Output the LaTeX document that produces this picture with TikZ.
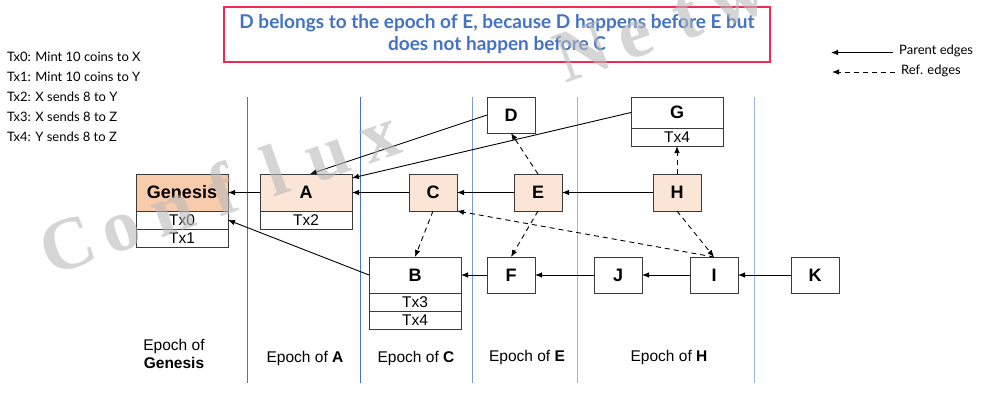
\documentclass[tikz,border=0pt]{standalone}
\usepackage{fontspec}
\setmainfont{Lato}
\setsansfont{Liberation Sans}
\newfontfamily\wmfont{Liberation Serif}
\usetikzlibrary{arrows.meta, positioning}
\definecolor{peach}{HTML}{F8CBAD}
\definecolor{lightpeach}{HTML}{FBE5D6}
\definecolor{boxline}{HTML}{3A3A3A}
\definecolor{epochblue}{HTML}{4472C4}
\definecolor{epochmid}{HTML}{7A9AD6}
\definecolor{epochpale}{HTML}{9DB5E3}
\definecolor{titleblue}{HTML}{4472C4}
\definecolor{titlered}{HTML}{EF2B55}
\tikzset{
  blk/.style={rectangle, draw=boxline, line width=1pt, inner sep=0pt, outer sep=0pt, minimum height=36pt, font=\sffamily\bfseries\fontsize{18}{18}\selectfont},
  wide/.style={blk, minimum width=92pt},
  narrow/.style={blk, minimum width=48pt},
  pivot/.style={fill=lightpeach, minimum height=37pt},
  txrow/.style={rectangle, draw=boxline, line width=1pt, inner sep=0pt, outer sep=0pt, minimum width=92pt, minimum height=18pt, font=\sffamily\fontsize{15.5}{16}\selectfont},
  parent/.style={-{Latex[length=7pt,width=5.5pt]}, line width=0.9pt},
  ref/.style={parent, dash pattern=on 5pt off 4pt},
  sep/.style={line width=1pt},
  epochlbl/.style={font=\sffamily\fontsize{15.5}{18}\selectfont, align=center, inner sep=0pt},
  note/.style={font=\fontsize{13}{16}\selectfont, inner sep=0pt},
  titlebox/.style={rectangle, draw=titlered, line width=2.4pt, fill=white, minimum width=546pt, minimum height=55pt, align=center, text=titleblue, inner sep=0pt, font=\bfseries\fontsize{19}{22}\selectfont},
  wmletter/.style={font=\wmfont\bfseries\fontsize{74}{74}\selectfont, text=gray!55, opacity=0.6, rotate=19.5, anchor=base, inner sep=0pt},
}
\begin{document}
\begin{tikzpicture}[x=1pt, y=-1pt]
\useasboundingbox (0,0) rectangle (998,407);

% epoch separators
\foreach \xx/\cc in {247/epochblue, 360/epochblue, 472/epochmid, 577/epochpale, 754/epochpale}
  \draw[sep, draw=\cc] (\xx,97) -- (\xx,383);

\node (title) [titlebox] at (497,34.5) {D belongs to the epoch of E, because D happens before E but\\does not happen before C};

% transactions
\foreach \txt [count=\i from 0] in {Tx0: Mint 10 coins to X, Tx1: Mint 10 coins to Y, Tx2: X sends 8 to Y, Tx3: X sends 8 to Z, Tx4: Y sends 8 to Z}
  \node (note\i) [note, anchor=base west] at (7,61.5+20*\i) {\txt};

% blocks
\node (gen) [wide, fill=peach, minimum height=37pt] at (182,192.5) {Genesis};
\node (gtx0) [txrow, below=0pt of gen] {Tx0};
\node (gtx1) [txrow, below=0pt of gtx0] {Tx1};
\node (a) [wide, pivot, right=32pt of gen] {A};
\node (atx2) [txrow, below=0pt of a] {Tx2};
\node (c) [narrow, pivot, right=57pt of a] {C};
\node (e) [narrow, pivot, right=57pt of c] {E};
\node (h) [narrow, pivot, right=91pt of e] {H};
\node (d) [narrow, above=41pt of e, xshift=-27pt] {D};
\node (gtx4) [txrow, above=28pt of h] {Tx4};
\node (g) [wide, minimum height=31pt, above=0pt of gtx4] {G};
\node (f) [narrow, below=46pt of e, xshift=-27pt] {F};
\node (b) [wide, left=26pt of f] {B};
\node (btx3) [txrow, below=0pt of b] {Tx3};
\node (btx4) [txrow, below=0pt of btx3] {Tx4};
\node (j) [narrow, right=59pt of f] {J};
\node (i) [narrow, right=48pt of j] {I};
\node (k) [narrow, right=53pt of i] {K};

% parent edges
\draw[parent] (a) -- (gen);
\draw[parent] (c) -- (a);
\draw[parent] (e) -- (c);
\draw[parent] (h) -- (e);
\draw[parent] (d.west) -- ([xshift=4pt]a.north);
\draw[parent] (g.west) -- ([yshift=-4pt]a.north east);
\draw[parent] (b.west) -- (gtx0.east);
\draw[parent] (f) -- (b);
\draw[parent] (j) -- (f);
\draw[parent] (i) -- (j);
\draw[parent] (k) -- (i);

% ref edges
\draw[ref] (e.north) -- (d.south);
\draw[ref] (h.north) -- (gtx4.south);
\draw[ref] (c.south) -- (b.north);
\draw[ref] (e.south) -- (f.north);
\draw[ref] (h.south) -- (i.north);
\draw[ref] (i.north) -- (c.south east);

% epochs
\node (ep0) [epochlbl] at (174,354) {Epoch of\\\textbf{Genesis}};
\node (ep1) [epochlbl] at (305,358) {Epoch of \textbf{A}};
\node (ep2) [epochlbl] at (416,358) {Epoch of \textbf{C}};
\node (ep3) [epochlbl] at (527,357) {Epoch of \textbf{E}};
\node (ep4) [epochlbl] at (669,357) {Epoch of \textbf{H}};

% legend
\node (plbl) [note, anchor=west] at (899,51) {Parent edges};
\node (rlbl) [note, anchor=west] at (901,71) {Ref. edges};
\coordinate (p0) at (893,52.5);
\coordinate (p1) at (831,52.5);
\coordinate (r0) at (895,72);
\coordinate (r1) at (832,72);
\draw[parent] (p0) -- (p1);
\draw[ref] (r0) -- (r1);

% watermark
\foreach \ch [count=\k from 0] in {C,o,n,f,l,u,x}
  \node (wm\k) [wmletter] at (76+51.84*\k, 268-18.36*\k) {\ch};
\foreach \ch [count=\k from 10] in {N,e,t,w}
  \node (wm\k) [wmletter] at (72+51.84*\k, 258-18.36*\k) {\ch};

\end{tikzpicture}
\end{document}
